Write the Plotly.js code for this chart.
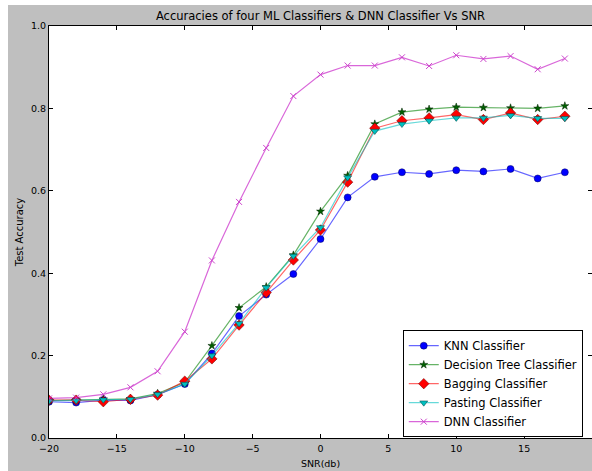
<!DOCTYPE html>
<html>
<head>
<meta charset="utf-8">
<script src="https://cdn.plot.ly/plotly-3.0.1.min.js"></script>
<style>
  html, body { margin: 0; padding: 0; background: #ffffff; width: 592px; height: 471px; overflow: hidden; }
  #chart { position: absolute; left: 8px; top: 5px; width: 584px; height: 466px; }
</style>
</head>
<body>
<div id="chart"></div>
<script>
// SNR values (dB)
var snr = [-20, -18, -16, -14, -12, -10, -8, -6, -4, -2, 0, 2, 4, 6, 8, 10, 12, 14, 16, 18];

// Test accuracy series
var knnAcc     = [0.088, 0.086, 0.092, 0.091, 0.105, 0.131, 0.205, 0.296, 0.348, 0.398, 0.483, 0.584, 0.634, 0.645, 0.641, 0.650, 0.647, 0.653, 0.630, 0.645];
var dtreeAcc   = [0.091, 0.092, 0.094, 0.095, 0.108, 0.135, 0.224, 0.316, 0.367, 0.444, 0.550, 0.637, 0.762, 0.791, 0.798, 0.803, 0.802, 0.801, 0.800, 0.806];
var baggingAcc = [0.092, 0.092, 0.088, 0.094, 0.104, 0.138, 0.192, 0.274, 0.353, 0.432, 0.505, 0.621, 0.752, 0.770, 0.777, 0.785, 0.773, 0.789, 0.773, 0.781];
var pastingAcc = [0.090, 0.091, 0.093, 0.094, 0.106, 0.131, 0.200, 0.278, 0.365, 0.442, 0.511, 0.632, 0.745, 0.762, 0.770, 0.777, 0.777, 0.783, 0.776, 0.776];
var dnnAcc     = [0.096, 0.098, 0.106, 0.123, 0.162, 0.258, 0.431, 0.573, 0.704, 0.830, 0.882, 0.904, 0.904, 0.924, 0.903, 0.929, 0.920, 0.927, 0.895, 0.921];

var seriesNames = ['KNN Classifier', 'Decision Tree Classifier', 'Bagging Classifier', 'Pasting Classifier', 'DNN Classifier'];

var xTickVals = [-20, -15, -10, -5, 0, 5, 10, 15, 20];
var yTickVals = [0.0, 0.2, 0.4, 0.6, 0.8, 1.0];

var FONT = 'DejaVu Sans, Bitstream Vera Sans, sans-serif';

function series(name, y, lineColor, symbol, fill, size, edgeColor, edgeWidth) {
  return {
    type: 'scatter',
    mode: 'lines+markers',
    name: name,
    x: snr,
    y: y,
    line: { color: lineColor, width: 1.2 },
    marker: { symbol: symbol, color: fill, size: size, line: { color: edgeColor, width: edgeWidth } }
  };
}

var data = [
  series(seriesNames[0], knnAcc,     'rgba(0,0,255,0.6)',     'circle',        '#0000ff', 7, '#000060', 0.5),
  series(seriesNames[1], dtreeAcc,   'rgba(0,128,0,0.6)',     'star',          '#006000', 6, '#002000', 0.5),
  series(seriesNames[2], baggingAcc, 'rgba(255,0,0,0.6)',     'diamond',       '#ff0000', 8, '#600000', 0.5),
  series(seriesNames[3], pastingAcc, 'rgba(0,191,191,0.6)',   'triangle-down', '#00bfbf', 7, '#004040', 0.5),
  series(seriesNames[4], dnnAcc,     'rgba(191,0,191,0.6)',   'x-thin',        '#bf00bf', 6, '#cc44cc', 1)
];

var layout = {
  width: 584,
  height: 466,
  paper_bgcolor: '#bfbfbf',
  plot_bgcolor: '#ffffff',
  margin: { l: 41, r: 0, t: 21, b: 33, pad: 0 },
  font: { family: FONT, color: '#000000', size: 9.5 },
  showlegend: true,
  title: {
    text: 'Accuracies of four ML Classifiers &amp; DNN Classifier Vs SNR',
    font: { family: FONT, size: 11.5, color: '#000000' },
    x: 0.5, xref: 'paper', xanchor: 'center',
    y: 1.022, yref: 'paper', yanchor: 'middle'
  },
  xaxis: {
    range: [-20, 20],
    tickvals: xTickVals,
    ticks: 'inside', ticklen: 4, tickwidth: 1, tickcolor: '#000000',
    ticklabelstandoff: 2,
    showline: true, linecolor: '#000000', linewidth: 1, mirror: 'allticks',
    showgrid: false, zeroline: false,
    tickfont: { family: FONT, size: 9.5, color: '#000000' },
    title: { text: 'SNR(db)', font: { family: FONT, size: 9.5, color: '#000000' }, standoff: 6 }
  },
  yaxis: {
    range: [0, 1],
    tickvals: yTickVals,
    tickformat: '.1f',
    ticks: 'inside', ticklen: 4, tickwidth: 1, tickcolor: '#000000',
    showline: true, linecolor: '#000000', linewidth: 1, mirror: 'allticks',
    showgrid: false, zeroline: false,
    tickfont: { family: FONT, size: 9.5, color: '#000000' },
    title: { text: 'Test Accuracy', font: { family: FONT, size: 10, color: '#000000' }, standoff: 5 }
  },
  legend: {
    x: 0.983, xanchor: 'right',
    y: 0.002, yanchor: 'bottom',
    bgcolor: '#ffffff',
    bordercolor: '#000000',
    borderwidth: 1,
    font: { family: FONT, size: 11.5, color: '#000000' }
  }
};

Plotly.newPlot('chart', data, layout, { displayModeBar: false, staticPlot: true });
</script>
</body>
</html>
